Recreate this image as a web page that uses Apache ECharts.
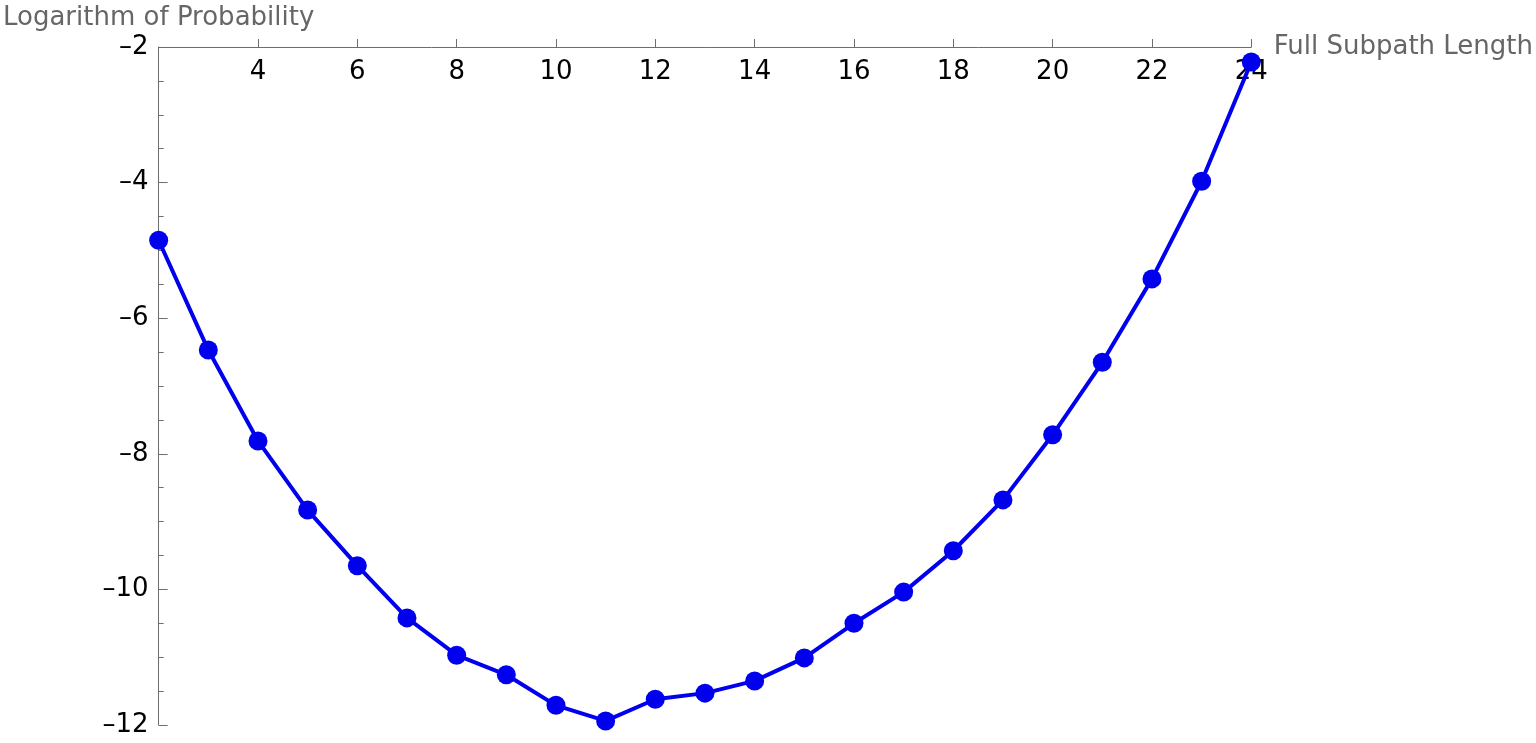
<!DOCTYPE html>
<html>
<head>
<meta charset="utf-8">
<script src="https://cdn.jsdelivr.net/npm/echarts@6/dist/echarts.min.js"></script>
<style>
  html, body { margin: 0; padding: 0; background: #ffffff; }
  #chart { width: 1536px; height: 743px; }
</style>
</head>
<body>
<div id="chart"></div>
<script>
// Log-probability vs full subpath length.
const lengths = [2, 3, 4, 5, 6, 7, 8, 9, 10, 11, 12, 13, 14, 15, 16, 17, 18, 19, 20, 21, 22, 23, 24];
const logProb = [-4.85, -6.47, -7.81, -8.83, -9.65, -10.42, -10.97, -11.26, -11.71, -11.94, -11.62,
                 -11.53, -11.35, -11.01, -10.50, -10.04, -9.43, -8.68, -7.72, -6.65, -5.42, -3.98, -2.22];

const LINE = '#0000ee';
const AXIS = '#6e6e6e';
const FONT = 'DejaVu Sans';

const chart = echarts.init(document.getElementById('chart'));
chart.setOption({
    animation: false,
    backgroundColor: '#ffffff',
    grid: { left: 157, right: 283, top: 47, bottom: 18 },
    xAxis: {
        type: 'value',
        position: 'top',
        min: 2, max: 24, interval: 2,
        name: 'Full Subpath Length',
        nameLocation: 'end',
        nameGap: 22,
        nameTextStyle: { fontFamily: FONT, fontSize: 26, color: '#666666', verticalAlign: 'middle' },
        axisLine: { onZero: false, lineStyle: { color: AXIS, width: 1 } },
        axisTick: { length: 8, lineStyle: { color: AXIS } },
        axisLabel: {
            inside: true, margin: 12, showMinLabel: false,
            fontFamily: FONT, fontSize: 26, color: '#000000'
        },
        splitLine: { show: false }
    },
    yAxis: {
        type: 'value',
        min: -12, max: -2, interval: 2,
        name: 'Logarithm of Probability',
        nameLocation: 'end',
        nameGap: 16,
        nameTextStyle: { fontFamily: FONT, fontSize: 26, color: '#666666', align: 'center' },
        axisLine: { onZero: false, lineStyle: { color: AXIS, width: 1 } },
        axisTick: { inside: true, length: 9, lineStyle: { color: AXIS } },
        minorTick: { show: true, splitNumber: 4, length: 5, lineStyle: { color: AXIS } },
        axisLabel: {
            margin: 10,
            fontFamily: FONT, fontSize: 26, color: '#000000',
            formatter: v => (v < 0 ? '\u2013' + Math.abs(v) : String(v))
        },
        splitLine: { show: false }
    },
    series: [{
        type: 'line',
        data: lengths.map((x, i) => [x, logProb[i]]),
        symbol: 'circle',
        symbolSize: 19,
        clip: false,
        lineStyle: { color: LINE, width: 4 },
        itemStyle: { color: LINE }
    }]
});
</script>
</body>
</html>
